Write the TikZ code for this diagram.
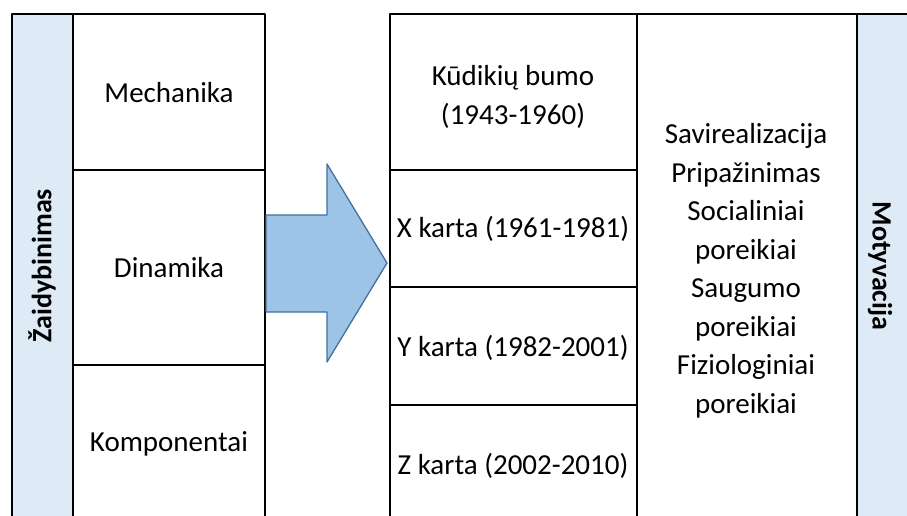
\documentclass[tikz,border=0pt]{standalone}
\usepackage{fontspec}
\setmainfont{Carlito}
\definecolor{paleblue}{HTML}{DEEBF7}
\definecolor{arrowblue}{HTML}{9DC3E6}
\definecolor{arrowedge}{HTML}{41719C}
\tikzset{
  txt/.style={font=\fontsize{29}{38.5}\selectfont, align=center},
  side/.style={font=\bfseries\fontsize{28}{34}\selectfont},
  rule/.style={line width=1.8pt, draw=black}
}

\begin{document}
\begin{tikzpicture}[x=1pt, y=-1pt, line join=round, line cap=round]
\useasboundingbox (0,0) rectangle (907,516);
% blue side columns
\fill[paleblue] (12,14) rectangle (73,516);
\fill[paleblue] (857,14) rectangle (907,516);
% left table
\draw[rule] (12,516)--(12,14)--(265,14)--(265,516);
\draw[rule] (73,14)--(73,516);
\draw[rule] (73,170)--(265,170);
\draw[rule] (73,365)--(265,365);
% right table
\draw[rule] (390,516)--(390,14)--(907,14);
\draw[rule] (637,14)--(637,516);
\draw[rule] (857,14)--(857,516);
\draw[rule] (390,170)--(637,170);
\draw[rule] (390,287)--(637,287);
\draw[rule] (390,405)--(637,405);
% arrow
\filldraw[fill=arrowblue, draw=arrowedge, line width=1.3pt]
  (266,215)--(327,215)--(327,164)--(387,263)--(327,362)--(327,312)--(266,312)--cycle;
% labels
\node[side, rotate=90] (zaid) at (42,266) {Žaidybinimas};
\node[side, rotate=-90] (motyv) at (880,266) {Motyvacija};
\node[txt] (mech) at (169,93) {Mechanika};
\node[txt] (dinam) at (169,268) {Dinamika};
\node[txt] (komp) at (169,444) {Komponentai};
\node[txt] (kudik) at (513,97) {Kūdikių bumo\\(1943-1960)};
\node[txt] (xkarta) at (513,229) {X karta (1961-1981)};
\node[txt] (ykarta) at (513,348) {Y karta (1982-2001)};
\node[txt] (zkarta) at (513,466) {Z karta (2002-2010)};
\node[txt] (poreik) at (746,271) {Savirealizacija\\Pripažinimas\\Socialiniai\\poreikiai\\Saugumo\\poreikiai\\Fiziologiniai\\poreikiai};
\end{tikzpicture}
\end{document}
